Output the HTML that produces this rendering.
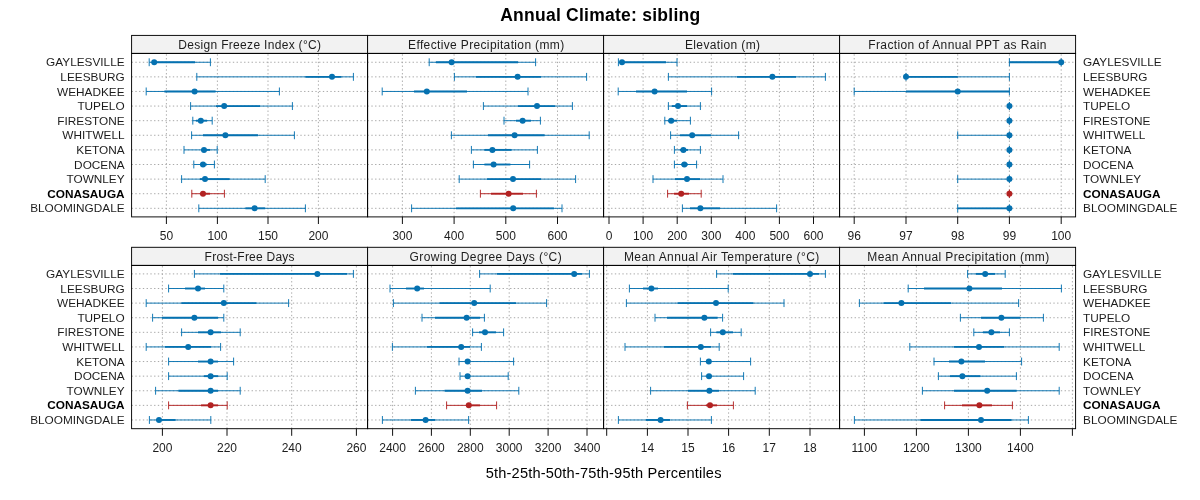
<!DOCTYPE html>
<html lang="en"><head><meta charset="utf-8"><title>Annual Climate: sibling</title>
<style>html,body{margin:0;padding:0;background:#fff}body{width:1200px;height:500px;overflow:hidden}svg{display:block}text{font-family:"Liberation Sans",Arial,Helvetica,sans-serif;fill:#000}.t{font-size:12px;fill:#1c1c1c}.y{font-size:11.8px;fill:#1c1c1c}.s{font-size:12px;fill:#1c1c1c}.b{fill:#000}.b{font-weight:bold}</style></head><body>
<svg width="1200" height="500" viewBox="0 0 1200 500">
<rect width="1200" height="500" fill="#fff"/>
<text x="600.3" y="20.7" text-anchor="middle" font-size="17.5" font-weight="bold" letter-spacing="0.25">Annual Climate: sibling</text>
<text x="603.7" y="478.1" text-anchor="middle" font-size="14.6" letter-spacing="0.18">5th-25th-50th-75th-95th Percentiles</text>
<g>
<rect x="131.6" y="35.4" width="236.0" height="18.0" fill="#f2f2f2"/>
<path d="M131.6 62.25H367.6M131.6 76.86H367.6M131.6 91.46H367.6M131.6 106.07H367.6M131.6 120.68H367.6M131.6 135.28H367.6M131.6 149.89H367.6M131.6 164.50H367.6M131.6 179.11H367.6M131.6 193.71H367.6M131.6 208.32H367.6M166.4 216.9V53.4M217.4 216.9V53.4M268.0 216.9V53.4M318.4 216.9V53.4" stroke="#a2a2a2" stroke-width="0.94" stroke-dasharray="1.35 2.4" fill="none"/>
<g stroke="#0571B0" fill="none"><path d="M149.2 62.25H210.4M149.2 58.30V66.20M210.4 58.30V66.20" stroke-width="0.94"/><path d="M154.2 62.25H195" stroke-width="1.875"/><circle cx="154.2" cy="62.25" r="3" fill="#0571B0" stroke="none"/></g>
<g stroke="#0571B0" fill="none"><path d="M196.8 76.86H353.4M196.8 72.91V80.81M353.4 72.91V80.81" stroke-width="0.94"/><path d="M305.4 76.86H341.4" stroke-width="1.875"/><circle cx="332" cy="76.86" r="3" fill="#0571B0" stroke="none"/></g>
<g stroke="#0571B0" fill="none"><path d="M146.2 91.46H279.4M146.2 87.51V95.41M279.4 87.51V95.41" stroke-width="0.94"/><path d="M164.4 91.46H215.6" stroke-width="1.875"/><circle cx="194.6" cy="91.46" r="3" fill="#0571B0" stroke="none"/></g>
<g stroke="#0571B0" fill="none"><path d="M190.6 106.07H292.4M190.6 102.12V110.02M292.4 102.12V110.02" stroke-width="0.94"/><path d="M216 106.07H260" stroke-width="1.875"/><circle cx="224.2" cy="106.07" r="3" fill="#0571B0" stroke="none"/></g>
<g stroke="#0571B0" fill="none"><path d="M192.8 120.68H212.2M192.8 116.73V124.63M212.2 116.73V124.63" stroke-width="0.94"/><path d="M196 120.68H207" stroke-width="1.875"/><circle cx="200.8" cy="120.68" r="3" fill="#0571B0" stroke="none"/></g>
<g stroke="#0571B0" fill="none"><path d="M191.6 135.28H294.4M191.6 131.34V139.23M294.4 131.34V139.23" stroke-width="0.94"/><path d="M203 135.28H258" stroke-width="1.875"/><circle cx="225.4" cy="135.28" r="3" fill="#0571B0" stroke="none"/></g>
<g stroke="#0571B0" fill="none"><path d="M184 149.89H217.2M184 145.94V153.84M217.2 145.94V153.84" stroke-width="0.94"/><path d="M201 149.89H210" stroke-width="1.875"/><circle cx="204" cy="149.89" r="3" fill="#0571B0" stroke="none"/></g>
<g stroke="#0571B0" fill="none"><path d="M193.8 164.50H214.4M193.8 160.55V168.45M214.4 160.55V168.45" stroke-width="0.94"/><path d="M200 164.50H207" stroke-width="1.875"/><circle cx="203" cy="164.50" r="3" fill="#0571B0" stroke="none"/></g>
<g stroke="#0571B0" fill="none"><path d="M181.6 179.11H265.2M181.6 175.16V183.06M265.2 175.16V183.06" stroke-width="0.94"/><path d="M200 179.11H229.6" stroke-width="1.875"/><circle cx="205" cy="179.11" r="3" fill="#0571B0" stroke="none"/></g>
<g stroke="#B22222" fill="none"><path d="M191.8 193.71H224.4M191.8 189.76V197.66M224.4 189.76V197.66" stroke-width="0.94"/><path d="M200 193.71H210" stroke-width="1.875"/><circle cx="203" cy="193.71" r="3" fill="#B22222" stroke="none"/></g>
<g stroke="#0571B0" fill="none"><path d="M198.8 208.32H305.4M198.8 204.37V212.27M305.4 204.37V212.27" stroke-width="0.94"/><path d="M245.4 208.32H265.2" stroke-width="1.875"/><circle cx="254.6" cy="208.32" r="3" fill="#0571B0" stroke="none"/></g>
<path d="M166.4 216.9v7.1M217.4 216.9v7.1M268.0 216.9v7.1M318.4 216.9v7.1" stroke="#000" stroke-width="0.94" fill="none"/>
<text class="t" x="166.4" y="239.7" text-anchor="middle">50</text>
<text class="t" x="217.4" y="239.7" text-anchor="middle">100</text>
<text class="t" x="268.0" y="239.7" text-anchor="middle">150</text>
<text class="t" x="318.4" y="239.7" text-anchor="middle">200</text>
<rect x="131.6" y="35.4" width="236.0" height="18.0" fill="none" stroke="#000" stroke-width="0.94"/>
<rect x="131.6" y="53.4" width="236.0" height="163.5" fill="none" stroke="#000" stroke-width="0.94"/>
<text class="s" style="letter-spacing:0.316px" x="249.8" y="48.70" text-anchor="middle">Design Freeze Index (°C)</text>
</g>
<g>
<rect x="367.6" y="35.4" width="236.0" height="18.0" fill="#f2f2f2"/>
<path d="M367.6 62.25H603.6M367.6 76.86H603.6M367.6 91.46H603.6M367.6 106.07H603.6M367.6 120.68H603.6M367.6 135.28H603.6M367.6 149.89H603.6M367.6 164.50H603.6M367.6 179.11H603.6M367.6 193.71H603.6M367.6 208.32H603.6M402.4 216.9V53.4M454.1 216.9V53.4M505.8 216.9V53.4M557.5 216.9V53.4" stroke="#a2a2a2" stroke-width="0.94" stroke-dasharray="1.35 2.4" fill="none"/>
<g stroke="#0571B0" fill="none"><path d="M429.2 62.25H535.6M429.2 58.30V66.20M535.6 58.30V66.20" stroke-width="0.94"/><path d="M436 62.25H518" stroke-width="1.875"/><circle cx="451.6" cy="62.25" r="3" fill="#0571B0" stroke="none"/></g>
<g stroke="#0571B0" fill="none"><path d="M454.4 76.86H586.6M454.4 72.91V80.81M586.6 72.91V80.81" stroke-width="0.94"/><path d="M476 76.86H541" stroke-width="1.875"/><circle cx="517.6" cy="76.86" r="3" fill="#0571B0" stroke="none"/></g>
<g stroke="#0571B0" fill="none"><path d="M382.2 91.46H528M382.2 87.51V95.41M528 87.51V95.41" stroke-width="0.94"/><path d="M414 91.46H467" stroke-width="1.875"/><circle cx="426.8" cy="91.46" r="3" fill="#0571B0" stroke="none"/></g>
<g stroke="#0571B0" fill="none"><path d="M483.4 106.07H572.4M483.4 102.12V110.02M572.4 102.12V110.02" stroke-width="0.94"/><path d="M518 106.07H555" stroke-width="1.875"/><circle cx="537" cy="106.07" r="3" fill="#0571B0" stroke="none"/></g>
<g stroke="#0571B0" fill="none"><path d="M504 120.68H540.4M504 116.73V124.63M540.4 116.73V124.63" stroke-width="0.94"/><path d="M516 120.68H531" stroke-width="1.875"/><circle cx="522.6" cy="120.68" r="3" fill="#0571B0" stroke="none"/></g>
<g stroke="#0571B0" fill="none"><path d="M451.4 135.28H589.2M451.4 131.34V139.23M589.2 131.34V139.23" stroke-width="0.94"/><path d="M488 135.28H544.6" stroke-width="1.875"/><circle cx="514.6" cy="135.28" r="3" fill="#0571B0" stroke="none"/></g>
<g stroke="#0571B0" fill="none"><path d="M471.4 149.89H537.4M471.4 145.94V153.84M537.4 145.94V153.84" stroke-width="0.94"/><path d="M484.4 149.89H511.6" stroke-width="1.875"/><circle cx="492.4" cy="149.89" r="3" fill="#0571B0" stroke="none"/></g>
<g stroke="#0571B0" fill="none"><path d="M473.4 164.50H529.6M473.4 160.55V168.45M529.6 160.55V168.45" stroke-width="0.94"/><path d="M484.4 164.50H510.4" stroke-width="1.875"/><circle cx="493.6" cy="164.50" r="3" fill="#0571B0" stroke="none"/></g>
<g stroke="#0571B0" fill="none"><path d="M459.2 179.11H575.6M459.2 175.16V183.06M575.6 175.16V183.06" stroke-width="0.94"/><path d="M487 179.11H541" stroke-width="1.875"/><circle cx="513" cy="179.11" r="3" fill="#0571B0" stroke="none"/></g>
<g stroke="#B22222" fill="none"><path d="M480.4 193.71H536.4M480.4 189.76V197.66M536.4 189.76V197.66" stroke-width="0.94"/><path d="M491 193.71H523" stroke-width="1.875"/><circle cx="508.6" cy="193.71" r="3" fill="#B22222" stroke="none"/></g>
<g stroke="#0571B0" fill="none"><path d="M411.6 208.32H562M411.6 204.37V212.27M562 204.37V212.27" stroke-width="0.94"/><path d="M456 208.32H554" stroke-width="1.875"/><circle cx="513.2" cy="208.32" r="3" fill="#0571B0" stroke="none"/></g>
<path d="M402.4 216.9v7.1M454.1 216.9v7.1M505.8 216.9v7.1M557.5 216.9v7.1" stroke="#000" stroke-width="0.94" fill="none"/>
<text class="t" x="402.4" y="239.7" text-anchor="middle">300</text>
<text class="t" x="454.1" y="239.7" text-anchor="middle">400</text>
<text class="t" x="505.8" y="239.7" text-anchor="middle">500</text>
<text class="t" x="557.5" y="239.7" text-anchor="middle">600</text>
<rect x="367.6" y="35.4" width="236.0" height="18.0" fill="none" stroke="#000" stroke-width="0.94"/>
<rect x="367.6" y="53.4" width="236.0" height="163.5" fill="none" stroke="#000" stroke-width="0.94"/>
<text class="s" style="letter-spacing:0.354px" x="486.3" y="48.70" text-anchor="middle">Effective Precipitation (mm)</text>
</g>
<g>
<rect x="603.6" y="35.4" width="236.0" height="18.0" fill="#f2f2f2"/>
<path d="M603.6 62.25H839.6M603.6 76.86H839.6M603.6 91.46H839.6M603.6 106.07H839.6M603.6 120.68H839.6M603.6 135.28H839.6M603.6 149.89H839.6M603.6 164.50H839.6M603.6 179.11H839.6M603.6 193.71H839.6M603.6 208.32H839.6M609.0 216.9V53.4M643.1 216.9V53.4M677.2 216.9V53.4M711.3 216.9V53.4M745.3 216.9V53.4M779.4 216.9V53.4M813.5 216.9V53.4" stroke="#a2a2a2" stroke-width="0.94" stroke-dasharray="1.35 2.4" fill="none"/>
<g stroke="#0571B0" fill="none"><path d="M618.4 62.25H677M618.4 58.30V66.20M677 58.30V66.20" stroke-width="0.94"/><path d="M622 62.25H666" stroke-width="1.875"/><circle cx="622" cy="62.25" r="3" fill="#0571B0" stroke="none"/></g>
<g stroke="#0571B0" fill="none"><path d="M668.4 76.86H825.4M668.4 72.91V80.81M825.4 72.91V80.81" stroke-width="0.94"/><path d="M737 76.86H796" stroke-width="1.875"/><circle cx="772.4" cy="76.86" r="3" fill="#0571B0" stroke="none"/></g>
<g stroke="#0571B0" fill="none"><path d="M618.2 91.46H711.6M618.2 87.51V95.41M711.6 87.51V95.41" stroke-width="0.94"/><path d="M636 91.46H687" stroke-width="1.875"/><circle cx="654.6" cy="91.46" r="3" fill="#0571B0" stroke="none"/></g>
<g stroke="#0571B0" fill="none"><path d="M668.4 106.07H700.4M668.4 102.12V110.02M700.4 102.12V110.02" stroke-width="0.94"/><path d="M672 106.07H687" stroke-width="1.875"/><circle cx="678" cy="106.07" r="3" fill="#0571B0" stroke="none"/></g>
<g stroke="#0571B0" fill="none"><path d="M664.8 120.68H690.4M664.8 116.73V124.63M690.4 116.73V124.63" stroke-width="0.94"/><path d="M668 120.68H677" stroke-width="1.875"/><circle cx="671.2" cy="120.68" r="3" fill="#0571B0" stroke="none"/></g>
<g stroke="#0571B0" fill="none"><path d="M670.6 135.28H738.6M670.6 131.34V139.23M738.6 131.34V139.23" stroke-width="0.94"/><path d="M680 135.28H711" stroke-width="1.875"/><circle cx="692.2" cy="135.28" r="3" fill="#0571B0" stroke="none"/></g>
<g stroke="#0571B0" fill="none"><path d="M674.4 149.89H700.4M674.4 145.94V153.84M700.4 145.94V153.84" stroke-width="0.94"/><path d="M680 149.89H688" stroke-width="1.875"/><circle cx="683.4" cy="149.89" r="3" fill="#0571B0" stroke="none"/></g>
<g stroke="#0571B0" fill="none"><path d="M674.4 164.50H696.6M674.4 160.55V168.45M696.6 160.55V168.45" stroke-width="0.94"/><path d="M681 164.50H688" stroke-width="1.875"/><circle cx="684.4" cy="164.50" r="3" fill="#0571B0" stroke="none"/></g>
<g stroke="#0571B0" fill="none"><path d="M653 179.11H723M653 175.16V183.06M723 175.16V183.06" stroke-width="0.94"/><path d="M675 179.11H700" stroke-width="1.875"/><circle cx="687" cy="179.11" r="3" fill="#0571B0" stroke="none"/></g>
<g stroke="#B22222" fill="none"><path d="M667.6 193.71H701.2M667.6 189.76V197.66M701.2 189.76V197.66" stroke-width="0.94"/><path d="M674 193.71H689" stroke-width="1.875"/><circle cx="681.2" cy="193.71" r="3" fill="#B22222" stroke="none"/></g>
<g stroke="#0571B0" fill="none"><path d="M682.4 208.32H776.6M682.4 204.37V212.27M776.6 204.37V212.27" stroke-width="0.94"/><path d="M690 208.32H720" stroke-width="1.875"/><circle cx="700.4" cy="208.32" r="3" fill="#0571B0" stroke="none"/></g>
<path d="M609.0 216.9v7.1M643.1 216.9v7.1M677.2 216.9v7.1M711.3 216.9v7.1M745.3 216.9v7.1M779.4 216.9v7.1M813.5 216.9v7.1" stroke="#000" stroke-width="0.94" fill="none"/>
<text class="t" x="609.0" y="239.7" text-anchor="middle">0</text>
<text class="t" x="643.1" y="239.7" text-anchor="middle">100</text>
<text class="t" x="677.2" y="239.7" text-anchor="middle">200</text>
<text class="t" x="711.3" y="239.7" text-anchor="middle">300</text>
<text class="t" x="745.3" y="239.7" text-anchor="middle">400</text>
<text class="t" x="779.4" y="239.7" text-anchor="middle">500</text>
<text class="t" x="813.5" y="239.7" text-anchor="middle">600</text>
<rect x="603.6" y="35.4" width="236.0" height="18.0" fill="none" stroke="#000" stroke-width="0.94"/>
<rect x="603.6" y="53.4" width="236.0" height="163.5" fill="none" stroke="#000" stroke-width="0.94"/>
<text class="s" style="letter-spacing:0.368px" x="722.7" y="48.70" text-anchor="middle">Elevation (m)</text>
</g>
<g>
<rect x="839.6" y="35.4" width="236.0" height="18.0" fill="#f2f2f2"/>
<path d="M839.6 62.25H1075.6M839.6 76.86H1075.6M839.6 91.46H1075.6M839.6 106.07H1075.6M839.6 120.68H1075.6M839.6 135.28H1075.6M839.6 149.89H1075.6M839.6 164.50H1075.6M839.6 179.11H1075.6M839.6 193.71H1075.6M839.6 208.32H1075.6M854.2 216.9V53.4M906.0 216.9V53.4M957.7 216.9V53.4M1009.4 216.9V53.4M1061.2 216.9V53.4" stroke="#a2a2a2" stroke-width="0.94" stroke-dasharray="1.35 2.4" fill="none"/>
<g stroke="#0571B0" fill="none"><path d="M1009.4 62.25H1061.2M1009.4 58.30V66.20M1061.2 58.30V66.20" stroke-width="0.94"/><path d="M1009.4 62.25H1061.2" stroke-width="1.875"/><circle cx="1061.2" cy="62.25" r="3" fill="#0571B0" stroke="none"/></g>
<g stroke="#0571B0" fill="none"><path d="M906.0 76.86H1009.4M906.0 72.91V80.81M1009.4 72.91V80.81" stroke-width="0.94"/><path d="M906.0 76.86H957.7" stroke-width="1.875"/><circle cx="906.0" cy="76.86" r="3" fill="#0571B0" stroke="none"/></g>
<g stroke="#0571B0" fill="none"><path d="M854.2 91.46H1009.4M854.2 87.51V95.41M1009.4 87.51V95.41" stroke-width="0.94"/><path d="M906.0 91.46H1009.4" stroke-width="1.875"/><circle cx="957.7" cy="91.46" r="3" fill="#0571B0" stroke="none"/></g>
<g stroke="#0571B0" fill="none"><path d="M1009.4 106.07H1009.4M1009.4 102.12V110.02M1009.4 102.12V110.02" stroke-width="0.94"/><path d="M1009.4 106.07H1009.4" stroke-width="1.875"/><circle cx="1009.4" cy="106.07" r="3" fill="#0571B0" stroke="none"/></g>
<g stroke="#0571B0" fill="none"><path d="M1009.4 120.68H1009.4M1009.4 116.73V124.63M1009.4 116.73V124.63" stroke-width="0.94"/><path d="M1009.4 120.68H1009.4" stroke-width="1.875"/><circle cx="1009.4" cy="120.68" r="3" fill="#0571B0" stroke="none"/></g>
<g stroke="#0571B0" fill="none"><path d="M957.7 135.28H1009.4M957.7 131.34V139.23M1009.4 131.34V139.23" stroke-width="0.94"/><path d="M1009.4 135.28H1009.4" stroke-width="1.875"/><circle cx="1009.4" cy="135.28" r="3" fill="#0571B0" stroke="none"/></g>
<g stroke="#0571B0" fill="none"><path d="M1009.4 149.89H1009.4M1009.4 145.94V153.84M1009.4 145.94V153.84" stroke-width="0.94"/><path d="M1009.4 149.89H1009.4" stroke-width="1.875"/><circle cx="1009.4" cy="149.89" r="3" fill="#0571B0" stroke="none"/></g>
<g stroke="#0571B0" fill="none"><path d="M1009.4 164.50H1009.4M1009.4 160.55V168.45M1009.4 160.55V168.45" stroke-width="0.94"/><path d="M1009.4 164.50H1009.4" stroke-width="1.875"/><circle cx="1009.4" cy="164.50" r="3" fill="#0571B0" stroke="none"/></g>
<g stroke="#0571B0" fill="none"><path d="M957.7 179.11H1009.4M957.7 175.16V183.06M1009.4 175.16V183.06" stroke-width="0.94"/><path d="M1009.4 179.11H1009.4" stroke-width="1.875"/><circle cx="1009.4" cy="179.11" r="3" fill="#0571B0" stroke="none"/></g>
<g stroke="#B22222" fill="none"><path d="M1009.4 193.71H1009.4M1009.4 189.76V197.66M1009.4 189.76V197.66" stroke-width="0.94"/><path d="M1009.4 193.71H1009.4" stroke-width="1.875"/><circle cx="1009.4" cy="193.71" r="3" fill="#B22222" stroke="none"/></g>
<g stroke="#0571B0" fill="none"><path d="M957.7 208.32H1009.4M957.7 204.37V212.27M1009.4 204.37V212.27" stroke-width="0.94"/><path d="M957.7 208.32H1009.4" stroke-width="1.875"/><circle cx="1009.4" cy="208.32" r="3" fill="#0571B0" stroke="none"/></g>
<path d="M854.2 216.9v7.1M906.0 216.9v7.1M957.7 216.9v7.1M1009.4 216.9v7.1M1061.2 216.9v7.1" stroke="#000" stroke-width="0.94" fill="none"/>
<text class="t" x="854.2" y="239.7" text-anchor="middle">96</text>
<text class="t" x="906.0" y="239.7" text-anchor="middle">97</text>
<text class="t" x="957.7" y="239.7" text-anchor="middle">98</text>
<text class="t" x="1009.4" y="239.7" text-anchor="middle">99</text>
<text class="t" x="1061.2" y="239.7" text-anchor="middle">100</text>
<rect x="839.6" y="35.4" width="236.0" height="18.0" fill="none" stroke="#000" stroke-width="0.94"/>
<rect x="839.6" y="53.4" width="236.0" height="163.5" fill="none" stroke="#000" stroke-width="0.94"/>
<text class="s" style="letter-spacing:0.383px" x="957.6" y="48.70" text-anchor="middle">Fraction of Annual PPT as Rain</text>
</g>
<g>
<rect x="131.6" y="247.3" width="236.0" height="18.1" fill="#f2f2f2"/>
<path d="M131.6 273.90H367.6M131.6 288.51H367.6M131.6 303.11H367.6M131.6 317.72H367.6M131.6 332.33H367.6M131.6 346.93H367.6M131.6 361.54H367.6M131.6 376.15H367.6M131.6 390.76H367.6M131.6 405.36H367.6M131.6 419.97H367.6M162.4 428.7V265.4M227.0 428.7V265.4M291.7 428.7V265.4M356.4 428.7V265.4" stroke="#a2a2a2" stroke-width="0.94" stroke-dasharray="1.35 2.4" fill="none"/>
<g stroke="#0571B0" fill="none"><path d="M194.4 273.90H353.4M194.4 269.95V277.85M353.4 269.95V277.85" stroke-width="0.94"/><path d="M220 273.90H347" stroke-width="1.875"/><circle cx="317.4" cy="273.90" r="3" fill="#0571B0" stroke="none"/></g>
<g stroke="#0571B0" fill="none"><path d="M168.6 288.51H223.8M168.6 284.56V292.46M223.8 284.56V292.46" stroke-width="0.94"/><path d="M185 288.51H205" stroke-width="1.875"/><circle cx="198" cy="288.51" r="3" fill="#0571B0" stroke="none"/></g>
<g stroke="#0571B0" fill="none"><path d="M146.2 303.11H288.6M146.2 299.16V307.06M288.6 299.16V307.06" stroke-width="0.94"/><path d="M181.4 303.11H256.4" stroke-width="1.875"/><circle cx="223.8" cy="303.11" r="3" fill="#0571B0" stroke="none"/></g>
<g stroke="#0571B0" fill="none"><path d="M152.6 317.72H223.8M152.6 313.77V321.67M223.8 313.77V321.67" stroke-width="0.94"/><path d="M162 317.72H218" stroke-width="1.875"/><circle cx="194.4" cy="317.72" r="3" fill="#0571B0" stroke="none"/></g>
<g stroke="#0571B0" fill="none"><path d="M181.6 332.33H240.2M181.6 328.38V336.28M240.2 328.38V336.28" stroke-width="0.94"/><path d="M198 332.33H221" stroke-width="1.875"/><circle cx="210.6" cy="332.33" r="3" fill="#0571B0" stroke="none"/></g>
<g stroke="#0571B0" fill="none"><path d="M146.2 346.93H220.6M146.2 342.98V350.88M220.6 342.98V350.88" stroke-width="0.94"/><path d="M165 346.93H211" stroke-width="1.875"/><circle cx="188.2" cy="346.93" r="3" fill="#0571B0" stroke="none"/></g>
<g stroke="#0571B0" fill="none"><path d="M168.6 361.54H233.6M168.6 357.59V365.49M233.6 357.59V365.49" stroke-width="0.94"/><path d="M198 361.54H218" stroke-width="1.875"/><circle cx="210.6" cy="361.54" r="3" fill="#0571B0" stroke="none"/></g>
<g stroke="#0571B0" fill="none"><path d="M168.6 376.15H227.2M168.6 372.20V380.10M227.2 372.20V380.10" stroke-width="0.94"/><path d="M204 376.15H218" stroke-width="1.875"/><circle cx="210.6" cy="376.15" r="3" fill="#0571B0" stroke="none"/></g>
<g stroke="#0571B0" fill="none"><path d="M155.6 390.76H240.2M155.6 386.81V394.71M240.2 386.81V394.71" stroke-width="0.94"/><path d="M178.4 390.76H218" stroke-width="1.875"/><circle cx="210.6" cy="390.76" r="3" fill="#0571B0" stroke="none"/></g>
<g stroke="#B22222" fill="none"><path d="M168.6 405.36H227.2M168.6 401.41V409.31M227.2 401.41V409.31" stroke-width="0.94"/><path d="M201 405.36H218" stroke-width="1.875"/><circle cx="210.6" cy="405.36" r="3" fill="#B22222" stroke="none"/></g>
<g stroke="#0571B0" fill="none"><path d="M149.4 419.97H210.8M149.4 416.02V423.92M210.8 416.02V423.92" stroke-width="0.94"/><path d="M156 419.97H175.6" stroke-width="1.875"/><circle cx="159" cy="419.97" r="3" fill="#0571B0" stroke="none"/></g>
<path d="M162.4 428.7v7.1M227.0 428.7v7.1M291.7 428.7v7.1M356.4 428.7v7.1" stroke="#000" stroke-width="0.94" fill="none"/>
<text class="t" x="162.4" y="451.5" text-anchor="middle">200</text>
<text class="t" x="227.0" y="451.5" text-anchor="middle">220</text>
<text class="t" x="291.7" y="451.5" text-anchor="middle">240</text>
<text class="t" x="356.4" y="451.5" text-anchor="middle">260</text>
<rect x="131.6" y="247.3" width="236.0" height="18.1" fill="none" stroke="#000" stroke-width="0.94"/>
<rect x="131.6" y="265.4" width="236.0" height="163.3" fill="none" stroke="#000" stroke-width="0.94"/>
<text class="s" style="letter-spacing:0.236px" x="249.7" y="261.20" text-anchor="middle">Frost-Free Days</text>
</g>
<g>
<rect x="367.6" y="247.3" width="236.0" height="18.1" fill="#f2f2f2"/>
<path d="M367.6 273.90H603.6M367.6 288.51H603.6M367.6 303.11H603.6M367.6 317.72H603.6M367.6 332.33H603.6M367.6 346.93H603.6M367.6 361.54H603.6M367.6 376.15H603.6M367.6 390.76H603.6M367.6 405.36H603.6M367.6 419.97H603.6M392.6 428.7V265.4M431.4 428.7V265.4M470.3 428.7V265.4M509.2 428.7V265.4M548.1 428.7V265.4M587.0 428.7V265.4" stroke="#a2a2a2" stroke-width="0.94" stroke-dasharray="1.35 2.4" fill="none"/>
<g stroke="#0571B0" fill="none"><path d="M479.6 273.90H589.4M479.6 269.95V277.85M589.4 269.95V277.85" stroke-width="0.94"/><path d="M497 273.90H582" stroke-width="1.875"/><circle cx="574.2" cy="273.90" r="3" fill="#0571B0" stroke="none"/></g>
<g stroke="#0571B0" fill="none"><path d="M390 288.51H490.2M390 284.56V292.46M490.2 284.56V292.46" stroke-width="0.94"/><path d="M406 288.51H424" stroke-width="1.875"/><circle cx="417.2" cy="288.51" r="3" fill="#0571B0" stroke="none"/></g>
<g stroke="#0571B0" fill="none"><path d="M393.4 303.11H546.6M393.4 299.16V307.06M546.6 299.16V307.06" stroke-width="0.94"/><path d="M439.6 303.11H516" stroke-width="1.875"/><circle cx="474.2" cy="303.11" r="3" fill="#0571B0" stroke="none"/></g>
<g stroke="#0571B0" fill="none"><path d="M422 317.72H484.4M422 313.77V321.67M484.4 313.77V321.67" stroke-width="0.94"/><path d="M435 317.72H480" stroke-width="1.875"/><circle cx="466.6" cy="317.72" r="3" fill="#0571B0" stroke="none"/></g>
<g stroke="#0571B0" fill="none"><path d="M472.6 332.33H503.6M472.6 328.38V336.28M503.6 328.38V336.28" stroke-width="0.94"/><path d="M479 332.33H496" stroke-width="1.875"/><circle cx="485" cy="332.33" r="3" fill="#0571B0" stroke="none"/></g>
<g stroke="#0571B0" fill="none"><path d="M392.4 346.93H481.4M392.4 342.98V350.88M481.4 342.98V350.88" stroke-width="0.94"/><path d="M427 346.93H470" stroke-width="1.875"/><circle cx="461.2" cy="346.93" r="3" fill="#0571B0" stroke="none"/></g>
<g stroke="#0571B0" fill="none"><path d="M459 361.54H513.6M459 357.59V365.49M513.6 357.59V365.49" stroke-width="0.94"/><path d="M465 361.54H470" stroke-width="1.875"/><circle cx="467.6" cy="361.54" r="3" fill="#0571B0" stroke="none"/></g>
<g stroke="#0571B0" fill="none"><path d="M460 376.15H508.2M460 372.20V380.10M508.2 372.20V380.10" stroke-width="0.94"/><path d="M465 376.15H470" stroke-width="1.875"/><circle cx="467.6" cy="376.15" r="3" fill="#0571B0" stroke="none"/></g>
<g stroke="#0571B0" fill="none"><path d="M415.4 390.76H518.8M415.4 386.81V394.71M518.8 386.81V394.71" stroke-width="0.94"/><path d="M444.6 390.76H482" stroke-width="1.875"/><circle cx="467.6" cy="390.76" r="3" fill="#0571B0" stroke="none"/></g>
<g stroke="#B22222" fill="none"><path d="M446.6 405.36H496.6M446.6 401.41V409.31M496.6 401.41V409.31" stroke-width="0.94"/><path d="M466 405.36H480" stroke-width="1.875"/><circle cx="468.8" cy="405.36" r="3" fill="#B22222" stroke="none"/></g>
<g stroke="#0571B0" fill="none"><path d="M382.4 419.97H468.6M382.4 416.02V423.92M468.6 416.02V423.92" stroke-width="0.94"/><path d="M411 419.97H435" stroke-width="1.875"/><circle cx="425.6" cy="419.97" r="3" fill="#0571B0" stroke="none"/></g>
<path d="M392.6 428.7v7.1M431.4 428.7v7.1M470.3 428.7v7.1M509.2 428.7v7.1M548.1 428.7v7.1M587.0 428.7v7.1" stroke="#000" stroke-width="0.94" fill="none"/>
<text class="t" x="392.6" y="451.5" text-anchor="middle">2400</text>
<text class="t" x="431.4" y="451.5" text-anchor="middle">2600</text>
<text class="t" x="470.3" y="451.5" text-anchor="middle">2800</text>
<text class="t" x="509.2" y="451.5" text-anchor="middle">3000</text>
<text class="t" x="548.1" y="451.5" text-anchor="middle">3200</text>
<text class="t" x="587.0" y="451.5" text-anchor="middle">3400</text>
<rect x="367.6" y="247.3" width="236.0" height="18.1" fill="none" stroke="#000" stroke-width="0.94"/>
<rect x="367.6" y="265.4" width="236.0" height="163.3" fill="none" stroke="#000" stroke-width="0.94"/>
<text class="s" style="letter-spacing:0.405px" x="485.8" y="261.20" text-anchor="middle">Growing Degree Days (°C)</text>
</g>
<g>
<rect x="603.6" y="247.3" width="236.0" height="18.1" fill="#f2f2f2"/>
<path d="M603.6 273.90H839.6M603.6 288.51H839.6M603.6 303.11H839.6M603.6 317.72H839.6M603.6 332.33H839.6M603.6 346.93H839.6M603.6 361.54H839.6M603.6 376.15H839.6M603.6 390.76H839.6M603.6 405.36H839.6M603.6 419.97H839.6M606.7 428.7V265.4M647.4 428.7V265.4M688.0 428.7V265.4M728.6 428.7V265.4M769.3 428.7V265.4M810.0 428.7V265.4" stroke="#a2a2a2" stroke-width="0.94" stroke-dasharray="1.35 2.4" fill="none"/>
<g stroke="#0571B0" fill="none"><path d="M716.6 273.90H825.4M716.6 269.95V277.85M825.4 269.95V277.85" stroke-width="0.94"/><path d="M733 273.90H819" stroke-width="1.875"/><circle cx="810" cy="273.90" r="3" fill="#0571B0" stroke="none"/></g>
<g stroke="#0571B0" fill="none"><path d="M629.4 288.51H728.2M629.4 284.56V292.46M728.2 284.56V292.46" stroke-width="0.94"/><path d="M643 288.51H658" stroke-width="1.875"/><circle cx="651.4" cy="288.51" r="3" fill="#0571B0" stroke="none"/></g>
<g stroke="#0571B0" fill="none"><path d="M626.4 303.11H784M626.4 299.16V307.06M784 299.16V307.06" stroke-width="0.94"/><path d="M677.6 303.11H753.4" stroke-width="1.875"/><circle cx="716" cy="303.11" r="3" fill="#0571B0" stroke="none"/></g>
<g stroke="#0571B0" fill="none"><path d="M655 317.72H722.6M655 313.77V321.67M722.6 313.77V321.67" stroke-width="0.94"/><path d="M667 317.72H717.6" stroke-width="1.875"/><circle cx="704.4" cy="317.72" r="3" fill="#0571B0" stroke="none"/></g>
<g stroke="#0571B0" fill="none"><path d="M710.6 332.33H741.2M710.6 328.38V336.28M741.2 328.38V336.28" stroke-width="0.94"/><path d="M716.4 332.33H733" stroke-width="1.875"/><circle cx="722.8" cy="332.33" r="3" fill="#0571B0" stroke="none"/></g>
<g stroke="#0571B0" fill="none"><path d="M625 346.93H719.2M625 342.98V350.88M719.2 342.98V350.88" stroke-width="0.94"/><path d="M664 346.93H711" stroke-width="1.875"/><circle cx="700.8" cy="346.93" r="3" fill="#0571B0" stroke="none"/></g>
<g stroke="#0571B0" fill="none"><path d="M700.4 361.54H750.6M700.4 357.59V365.49M750.6 357.59V365.49" stroke-width="0.94"/><path d="M706 361.54H711" stroke-width="1.875"/><circle cx="708.8" cy="361.54" r="3" fill="#0571B0" stroke="none"/></g>
<g stroke="#0571B0" fill="none"><path d="M701.6 376.15H743.6M701.6 372.20V380.10M743.6 372.20V380.10" stroke-width="0.94"/><path d="M707 376.15H712" stroke-width="1.875"/><circle cx="709" cy="376.15" r="3" fill="#0571B0" stroke="none"/></g>
<g stroke="#0571B0" fill="none"><path d="M650.6 390.76H755.2M650.6 386.81V394.71M755.2 386.81V394.71" stroke-width="0.94"/><path d="M688 390.76H719" stroke-width="1.875"/><circle cx="709.4" cy="390.76" r="3" fill="#0571B0" stroke="none"/></g>
<g stroke="#B22222" fill="none"><path d="M687.4 405.36H733.4M687.4 401.41V409.31M733.4 401.41V409.31" stroke-width="0.94"/><path d="M706 405.36H717" stroke-width="1.875"/><circle cx="710" cy="405.36" r="3" fill="#B22222" stroke="none"/></g>
<g stroke="#0571B0" fill="none"><path d="M618.4 419.97H711.4M618.4 416.02V423.92M711.4 416.02V423.92" stroke-width="0.94"/><path d="M646 419.97H670" stroke-width="1.875"/><circle cx="660.6" cy="419.97" r="3" fill="#0571B0" stroke="none"/></g>
<path d="M606.7 428.7v7.1M647.4 428.7v7.1M688.0 428.7v7.1M728.6 428.7v7.1M769.3 428.7v7.1M810.0 428.7v7.1" stroke="#000" stroke-width="0.94" fill="none"/>
<text class="t" x="647.4" y="451.5" text-anchor="middle">14</text>
<text class="t" x="688.0" y="451.5" text-anchor="middle">15</text>
<text class="t" x="728.6" y="451.5" text-anchor="middle">16</text>
<text class="t" x="769.3" y="451.5" text-anchor="middle">17</text>
<text class="t" x="810.0" y="451.5" text-anchor="middle">18</text>
<rect x="603.6" y="247.3" width="236.0" height="18.1" fill="none" stroke="#000" stroke-width="0.94"/>
<rect x="603.6" y="265.4" width="236.0" height="163.3" fill="none" stroke="#000" stroke-width="0.94"/>
<text class="s" style="letter-spacing:0.41px" x="721.8" y="261.20" text-anchor="middle">Mean Annual Air Temperature (°C)</text>
</g>
<g>
<rect x="839.6" y="247.3" width="236.0" height="18.1" fill="#f2f2f2"/>
<path d="M839.6 273.90H1075.6M839.6 288.51H1075.6M839.6 303.11H1075.6M839.6 317.72H1075.6M839.6 332.33H1075.6M839.6 346.93H1075.6M839.6 361.54H1075.6M839.6 376.15H1075.6M839.6 390.76H1075.6M839.6 405.36H1075.6M839.6 419.97H1075.6M864.4 428.7V265.4M916.4 428.7V265.4M968.4 428.7V265.4M1020.4 428.7V265.4M1072.4 428.7V265.4" stroke="#a2a2a2" stroke-width="0.94" stroke-dasharray="1.35 2.4" fill="none"/>
<g stroke="#0571B0" fill="none"><path d="M967.6 273.90H1005.2M967.6 269.95V277.85M1005.2 269.95V277.85" stroke-width="0.94"/><path d="M976 273.90H995" stroke-width="1.875"/><circle cx="985.2" cy="273.90" r="3" fill="#0571B0" stroke="none"/></g>
<g stroke="#0571B0" fill="none"><path d="M908.2 288.51H1061.4M908.2 284.56V292.46M1061.4 284.56V292.46" stroke-width="0.94"/><path d="M924 288.51H1002" stroke-width="1.875"/><circle cx="969.4" cy="288.51" r="3" fill="#0571B0" stroke="none"/></g>
<g stroke="#0571B0" fill="none"><path d="M859.4 303.11H1018.6M859.4 299.16V307.06M1018.6 299.16V307.06" stroke-width="0.94"/><path d="M883.6 303.11H951" stroke-width="1.875"/><circle cx="901.4" cy="303.11" r="3" fill="#0571B0" stroke="none"/></g>
<g stroke="#0571B0" fill="none"><path d="M960.4 317.72H1043.4M960.4 313.77V321.67M1043.4 313.77V321.67" stroke-width="0.94"/><path d="M981 317.72H1020.4" stroke-width="1.875"/><circle cx="1001.4" cy="317.72" r="3" fill="#0571B0" stroke="none"/></g>
<g stroke="#0571B0" fill="none"><path d="M973.8 332.33H1009.4M973.8 328.38V336.28M1009.4 328.38V336.28" stroke-width="0.94"/><path d="M983 332.33H1000" stroke-width="1.875"/><circle cx="991.4" cy="332.33" r="3" fill="#0571B0" stroke="none"/></g>
<g stroke="#0571B0" fill="none"><path d="M909.8 346.93H1059.2M909.8 342.98V350.88M1059.2 342.98V350.88" stroke-width="0.94"/><path d="M954 346.93H1004" stroke-width="1.875"/><circle cx="979" cy="346.93" r="3" fill="#0571B0" stroke="none"/></g>
<g stroke="#0571B0" fill="none"><path d="M934 361.54H1021.6M934 357.59V365.49M1021.6 357.59V365.49" stroke-width="0.94"/><path d="M949 361.54H985" stroke-width="1.875"/><circle cx="961.4" cy="361.54" r="3" fill="#0571B0" stroke="none"/></g>
<g stroke="#0571B0" fill="none"><path d="M938.4 376.15H1016.4M938.4 372.20V380.10M1016.4 372.20V380.10" stroke-width="0.94"/><path d="M950 376.15H980.4" stroke-width="1.875"/><circle cx="962.4" cy="376.15" r="3" fill="#0571B0" stroke="none"/></g>
<g stroke="#0571B0" fill="none"><path d="M922.4 390.76H1059.2M922.4 386.81V394.71M1059.2 386.81V394.71" stroke-width="0.94"/><path d="M954 390.76H1016.6" stroke-width="1.875"/><circle cx="987.2" cy="390.76" r="3" fill="#0571B0" stroke="none"/></g>
<g stroke="#B22222" fill="none"><path d="M944.6 405.36H1012.4M944.6 401.41V409.31M1012.4 401.41V409.31" stroke-width="0.94"/><path d="M962 405.36H992" stroke-width="1.875"/><circle cx="979.4" cy="405.36" r="3" fill="#B22222" stroke="none"/></g>
<g stroke="#0571B0" fill="none"><path d="M854.4 419.97H1028.4M854.4 416.02V423.92M1028.4 416.02V423.92" stroke-width="0.94"/><path d="M920.4 419.97H1011.6" stroke-width="1.875"/><circle cx="981" cy="419.97" r="3" fill="#0571B0" stroke="none"/></g>
<path d="M864.4 428.7v7.1M916.4 428.7v7.1M968.4 428.7v7.1M1020.4 428.7v7.1M1072.4 428.7v7.1" stroke="#000" stroke-width="0.94" fill="none"/>
<text class="t" x="864.4" y="451.5" text-anchor="middle">1100</text>
<text class="t" x="916.4" y="451.5" text-anchor="middle">1200</text>
<text class="t" x="968.4" y="451.5" text-anchor="middle">1300</text>
<text class="t" x="1020.4" y="451.5" text-anchor="middle">1400</text>
<rect x="839.6" y="247.3" width="236.0" height="18.1" fill="none" stroke="#000" stroke-width="0.94"/>
<rect x="839.6" y="265.4" width="236.0" height="163.3" fill="none" stroke="#000" stroke-width="0.94"/>
<text class="s" style="letter-spacing:0.384px" x="958.4" y="261.20" text-anchor="middle">Mean Annual Precipitation (mm)</text>
</g>
<text class="y" x="124.6" y="66.2" text-anchor="end">GAYLESVILLE</text>
<text class="y" x="1083.1" y="66.2">GAYLESVILLE</text>
<text class="y" x="124.6" y="80.9" text-anchor="end">LEESBURG</text>
<text class="y" x="1083.1" y="80.9">LEESBURG</text>
<text class="y" x="124.6" y="95.5" text-anchor="end">WEHADKEE</text>
<text class="y" x="1083.1" y="95.5">WEHADKEE</text>
<text class="y" x="124.6" y="110.1" text-anchor="end">TUPELO</text>
<text class="y" x="1083.1" y="110.1">TUPELO</text>
<text class="y" x="124.6" y="124.7" text-anchor="end">FIRESTONE</text>
<text class="y" x="1083.1" y="124.7">FIRESTONE</text>
<text class="y" x="124.6" y="139.3" text-anchor="end">WHITWELL</text>
<text class="y" x="1083.1" y="139.3">WHITWELL</text>
<text class="y" x="124.6" y="153.9" text-anchor="end">KETONA</text>
<text class="y" x="1083.1" y="153.9">KETONA</text>
<text class="y" x="124.6" y="168.5" text-anchor="end">DOCENA</text>
<text class="y" x="1083.1" y="168.5">DOCENA</text>
<text class="y" x="124.6" y="183.1" text-anchor="end">TOWNLEY</text>
<text class="y" x="1083.1" y="183.1">TOWNLEY</text>
<text class="y b" x="124.6" y="197.7" text-anchor="end">CONASAUGA</text>
<text class="y b" x="1083.1" y="197.7">CONASAUGA</text>
<text class="y" x="124.6" y="212.3" text-anchor="end">BLOOMINGDALE</text>
<text class="y" x="1083.1" y="212.3">BLOOMINGDALE</text>
<text class="y" x="124.6" y="277.9" text-anchor="end">GAYLESVILLE</text>
<text class="y" x="1083.1" y="277.9">GAYLESVILLE</text>
<text class="y" x="124.6" y="292.5" text-anchor="end">LEESBURG</text>
<text class="y" x="1083.1" y="292.5">LEESBURG</text>
<text class="y" x="124.6" y="307.1" text-anchor="end">WEHADKEE</text>
<text class="y" x="1083.1" y="307.1">WEHADKEE</text>
<text class="y" x="124.6" y="321.7" text-anchor="end">TUPELO</text>
<text class="y" x="1083.1" y="321.7">TUPELO</text>
<text class="y" x="124.6" y="336.3" text-anchor="end">FIRESTONE</text>
<text class="y" x="1083.1" y="336.3">FIRESTONE</text>
<text class="y" x="124.6" y="350.9" text-anchor="end">WHITWELL</text>
<text class="y" x="1083.1" y="350.9">WHITWELL</text>
<text class="y" x="124.6" y="365.5" text-anchor="end">KETONA</text>
<text class="y" x="1083.1" y="365.5">KETONA</text>
<text class="y" x="124.6" y="380.1" text-anchor="end">DOCENA</text>
<text class="y" x="1083.1" y="380.1">DOCENA</text>
<text class="y" x="124.6" y="394.8" text-anchor="end">TOWNLEY</text>
<text class="y" x="1083.1" y="394.8">TOWNLEY</text>
<text class="y b" x="124.6" y="409.4" text-anchor="end">CONASAUGA</text>
<text class="y b" x="1083.1" y="409.4">CONASAUGA</text>
<text class="y" x="124.6" y="424.0" text-anchor="end">BLOOMINGDALE</text>
<text class="y" x="1083.1" y="424.0">BLOOMINGDALE</text>
</svg></body></html>
